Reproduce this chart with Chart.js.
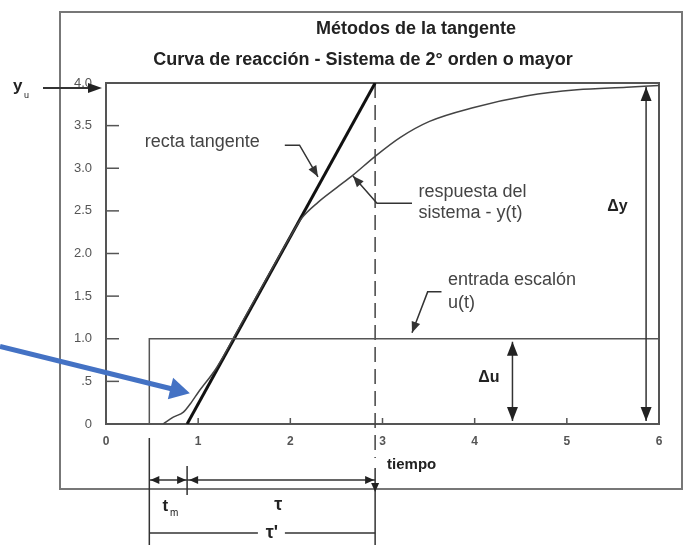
<!DOCTYPE html>
<html>
<head>
<meta charset="utf-8">
<title>Métodos de la tangente</title>
<script src="https://cdn.jsdelivr.net/npm/chart.js@4"></script>
<style>
  html, body { margin: 0; padding: 0; background: #fff; }
  canvas { display: block; }
</style>
</head>
<body>
<canvas id="reactionChart" width="698" height="554"></canvas>
<script>
// Respuesta del sistema y(t)
const respTime  = [0.62, 0.73, 0.84, 0.93, 1.0, 1.2, 1.5, 1.8, 2.0, 2.12, 2.3, 2.5, 2.68, 2.92, 3.19, 3.51, 3.98, 4.57, 5.11, 5.65, 6.0];
const respValue = [0, 0.08, 0.14, 0.26, 0.37, 0.66, 1.24, 1.82, 2.2, 2.41, 2.6, 2.77, 2.92, 3.14, 3.36, 3.55, 3.71, 3.85, 3.92, 3.95, 3.97];

// Entrada escalon u(t)
const stepTime  = [0.47, 0.47, 6];
const stepValue = [0, 1, 1];

// Recta tangente (corta y=0 en t0 y y=yu en t0 + tau)
const tangentTime  = [0.88, 2.92];
const tangentValue = [0, 4];

// Ejes
const xTickLabels = ['0', '1', '2', '3', '4', '5', '6'];
const yTickLabels = ['0', '.5', '1.0', '1.5', '2.0', '2.5', '3.0', '3.5', '4.0'];

Chart.defaults.font.family = '"Liberation Sans", Arial, sans-serif';

const toPoints = (xs, ys) => xs.map((x, i) => ({ x: x, y: ys[i] }));

const Figure = {
    // Draw a filled arrow head with its tip at (x, y)
    head(ctx, x, y, angle, len, half) {
        ctx.save();
        ctx.translate(x, y);
        ctx.rotate(angle);
        ctx.beginPath();
        ctx.moveTo(0, 0);
        ctx.lineTo(-len, -half);
        ctx.lineTo(-len, half);
        ctx.closePath();
        ctx.fill();
        ctx.restore();
    },

    // Polyline through pixel points
    path(ctx, pts) {
        ctx.beginPath();
        ctx.moveTo(pts[0][0], pts[0][1]);
        pts.slice(1).forEach(p => ctx.lineTo(p[0], p[1]));
        ctx.stroke();
    },

    // Leader line ending in an arrow head
    leader(ctx, pts) {
        this.path(ctx, pts);
        const a = pts[pts.length - 2], b = pts[pts.length - 1];
        this.head(ctx, b[0], b[1], Math.atan2(b[1] - a[1], b[0] - a[0]), 11, 4.5);
    },

    // Vertical double arrow
    doubleArrow(ctx, x, y1, y2) {
        this.path(ctx, [[x, y1], [x, y2]]);
        this.head(ctx, x, y1, -Math.PI / 2, 14, 5.5);
        this.head(ctx, x, y2, Math.PI / 2, 14, 5.5);
    }
};

const figurePlugin = {
    id: 'figure',

    beforeDatasetsDraw(chart) {
        const { ctx, chartArea: a, scales: { x, y } } = chart;
        ctx.save();

        // Outer frame
        ctx.strokeStyle = '#777';
        ctx.lineWidth = 2;
        ctx.strokeRect(60, 12, 622, 477);

        // Plot frame
        ctx.strokeStyle = '#555';
        ctx.strokeRect(a.left, a.top, a.right - a.left, a.bottom - a.top);

        // Inward tick marks
        ctx.lineWidth = 1.5;
        yTickLabels.forEach((_, i) => {
            const py = y.getPixelForValue(i * 0.5);
            Figure.path(ctx, [[a.left, py], [a.left + 13, py]]);
        });
        xTickLabels.forEach((_, i) => {
            const px = x.getPixelForValue(i);
            Figure.path(ctx, [[px, a.bottom], [px, a.bottom - 6]]);
        });

        // Titles
        ctx.fillStyle = '#222';
        ctx.font = 'bold 18px "Liberation Sans", Arial, sans-serif';
        ctx.textBaseline = 'middle';
        ctx.textAlign = 'center';
        ctx.fillText('Métodos de la tangente', 416, 29);
        ctx.fillText('Curva de reacción - Sistema de 2° orden o mayor', 363, 60);

        // Dashed guide at t0 + tau
        const xe = x.getPixelForValue(tangentTime[1]);
        ctx.strokeStyle = '#444';
        ctx.setLineDash([15, 7]);
        Figure.path(ctx, [[xe, a.top], [xe, a.bottom + 34]]);
        ctx.setLineDash([]);
        ctx.restore();
    },

    afterDatasetsDraw(chart) {
        const { ctx, chartArea: a, scales: { x, y } } = chart;
        const P = (t, v) => [x.getPixelForValue(t), y.getPixelForValue(v)];
        ctx.save();
        ctx.strokeStyle = '#333';
        ctx.fillStyle = '#333';
        ctx.lineWidth = 1.5;

        // Notes inside the plot
        ctx.font = '18px "Liberation Sans", Arial, sans-serif';
        ctx.fillStyle = '#444';
        ctx.textBaseline = 'middle';
        ctx.textAlign = 'left';
        ctx.fillText('recta tangente', ...P(0.42, 3.31));
        ctx.fillText('respuesta del', ...P(3.39, 2.72));
        ctx.fillText('sistema - y(t)', ...P(3.39, 2.48));
        ctx.fillText('entrada escalón', ...P(3.71, 1.69));
        ctx.fillText('u(t)', ...P(3.71, 1.42));

        ctx.fillStyle = '#333';
        Figure.leader(ctx, [P(1.94, 3.27), P(2.10, 3.27), P(2.30, 2.90)]);
        Figure.leader(ctx, [P(3.32, 2.59), P(2.94, 2.59), P(2.68, 2.91)]);
        Figure.leader(ctx, [P(3.64, 1.55), P(3.49, 1.55), P(3.32, 1.07)]);

        // Delta u and Delta y
        ctx.fillStyle = '#222';
        ctx.font = 'bold 16px "Liberation Sans", Arial, sans-serif';
        ctx.textAlign = 'right';
        ctx.fillText('Δu', ...P(4.27, 0.54));
        ctx.fillText('Δy', ...P(5.66, 2.55));
        Figure.doubleArrow(ctx, x.getPixelForValue(4.41), y.getPixelForValue(1) + 3, y.getPixelForValue(0) - 3);
        Figure.doubleArrow(ctx, x.getPixelForValue(5.86), y.getPixelForValue(4) + 4, y.getPixelForValue(0) - 3);

        // y_u arrow
        const yTop = y.getPixelForValue(4) + 5;
        ctx.font = 'bold 17px "Liberation Sans", Arial, sans-serif';
        ctx.textAlign = 'left';
        ctx.textBaseline = 'alphabetic';
        ctx.fillText('y', 13, yTop + 3);
        ctx.font = '9px "Liberation Sans", Arial, sans-serif';
        ctx.fillText('u', 24, yTop + 10);
        ctx.lineWidth = 2;
        Figure.path(ctx, [[43, yTop], [94, yTop]]);
        Figure.head(ctx, a.left - 4, yTop, 0, 14, 5);

        // Axis title
        ctx.font = 'bold 15px "Liberation Sans", Arial, sans-serif';
        ctx.textBaseline = 'middle';
        ctx.fillText('tiempo', x.getPixelForValue(3.05), a.bottom + 41);

        // Time constants below the axis
        const xs = x.getPixelForValue(stepTime[0]);
        const x0 = x.getPixelForValue(tangentTime[0]);
        const xe = x.getPixelForValue(tangentTime[1]);
        const b = a.bottom;
        ctx.lineWidth = 1.5;
        Figure.path(ctx, [[xs, b + 14], [xs, b + 121]]);
        Figure.path(ctx, [[x0, b + 42], [x0, b + 71]]);
        Figure.path(ctx, [[xe, b + 44], [xe, b + 121]]);
        Figure.path(ctx, [[xs, b + 56], [xe, b + 56]]);
        Figure.head(ctx, xs + 1, b + 56, Math.PI, 9, 4);
        Figure.head(ctx, x0 - 1, b + 56, 0, 9, 4);
        Figure.head(ctx, x0 + 2, b + 56, Math.PI, 9, 4);
        Figure.head(ctx, xe - 1, b + 56, 0, 9, 4);
        Figure.head(ctx, xe, b + 68, Math.PI / 2, 9, 4);

        ctx.font = 'bold 17px "Liberation Sans", Arial, sans-serif';
        ctx.textAlign = 'center';
        ctx.fillText('t', (xs + x0) / 2 - 3, b + 82);
        ctx.font = '10px "Liberation Sans", Arial, sans-serif';
        ctx.fillText('m', (xs + x0) / 2 + 6, b + 89);
        ctx.font = 'bold 18px "Liberation Sans", Arial, sans-serif';
        ctx.fillText('τ', x.getPixelForValue(1.87), b + 81);
        const xm = x.getPixelForValue(1.8);
        ctx.fillText('τ\'', xm, b + 109);
        Figure.path(ctx, [[xs, b + 109], [xm - 14, b + 109]]);
        Figure.path(ctx, [[xm + 13, b + 109], [xe, b + 109]]);

        // Highlight arrow
        ctx.strokeStyle = '#4472c4';
        ctx.fillStyle = '#4472c4';
        ctx.lineWidth = 5;
        const tip = P(0.91, 0.36);
        const ang = Math.atan2(47, 190);
        const base = [tip[0] - 17 * Math.cos(ang), tip[1] - 17 * Math.sin(ang)];
        Figure.path(ctx, [[0, tip[1] - 47], base]);
        Figure.head(ctx, tip[0], tip[1], ang, 20, 11);
        ctx.restore();
    }
};

new Chart(document.getElementById('reactionChart'), {
    type: 'line',
    data: {
        datasets: [
            {
                label: 'u(t)',
                data: toPoints(stepTime, stepValue),
                borderColor: '#555',
                borderWidth: 1.5,
                pointRadius: 0
            },
            {
                label: 'y(t)',
                data: toPoints(respTime, respValue),
                borderColor: '#444',
                borderWidth: 1.5,
                pointRadius: 0,
                cubicInterpolationMode: 'monotone'
            },
            {
                label: 'recta tangente',
                data: toPoints(tangentTime, tangentValue),
                borderColor: '#111',
                borderWidth: 3,
                pointRadius: 0
            }
        ]
    },
    options: {
        responsive: false,
        animation: false,
        events: [],
        layout: { padding: { top: 83, right: 39, left: 0, bottom: 0 } },
        plugins: {
            legend: { display: false },
            title: { display: false },
            tooltip: { enabled: false }
        },
        scales: {
            x: {
                type: 'linear',
                min: 0,
                max: 6,
                grid: { display: false, drawTicks: false },
                border: { display: false },
                afterFit: scale => { scale.height = 130; },
                ticks: {
                    stepSize: 1,
                    autoSkip: false,
                    maxRotation: 0,
                    padding: 10,
                    color: '#555',
                    font: { size: 12, weight: 'bold' },
                    callback: value => xTickLabels[value]
                }
            },
            y: {
                min: 0,
                max: 4,
                grid: { display: false, drawTicks: false },
                border: { display: false },
                afterFit: scale => { scale.width = 106; },
                ticks: {
                    stepSize: 0.5,
                    autoSkip: false,
                    padding: 14,
                    color: '#555',
                    font: { size: 13 },
                    callback: value => yTickLabels[Math.round(value * 2)]
                }
            }
        }
    },
    plugins: [figurePlugin]
});
</script>
</body>
</html>
